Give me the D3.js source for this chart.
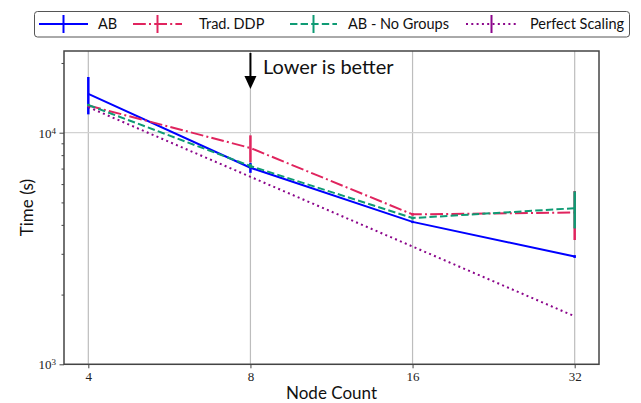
<!DOCTYPE html>
<html lang="en">
<head>
    <meta charset="UTF-8">
    <title>Time vs Node Count</title>
    <script src="https://d3js.org/d3.v7.min.js"></script>
    <style>
        body { margin: 0; background: #fff; }
        .grid line { stroke: #bdbdbd; stroke-width: 1.2px; }
        .axis path { display: none; }
        .axis line { stroke: #444; stroke-width: 1px; }
        .axis text { font-family: "Liberation Serif", serif; font-size: 13px; fill: #222; }
        .label { font-family: Lato, sans-serif; fill: #111; }
        .series { fill: none; stroke-width: 2px; }
    </style>
</head>
<body>
    <script>
        // Data
        var nodes = [4, 8, 16, 32];
        var xTicks = [4, 8, 16, 32];
        var yMajor = [1000, 10000];
        var yMinor = [2000, 3000, 4000, 5000, 6000, 7000, 8000, 9000, 20000];

        var abTime = [14700, 7060, 4120, 2920];
        var abErr = [2700, 350, 50, 40];
        var ddpTime = [13100, 8590, 4440, 4520];
        var ddpErr = [150, 1150, 60, 1080];
        var noGroupsTime = [13170, 7180, 4280, 4720];
        var noGroupsErr = [150, 150, 60, 860];
        var perfectTime = [12900, 6450, 3225, 1612];
        var perfectErr = [0, 0, 0, 0];

        var seriesNames = ["AB", "Trad. DDP", "AB - No Groups", "Perfect Scaling"];

        var series = [
            {name: seriesNames[0], y: abTime, err: abErr, color: "#0000ff", dash: null},
            {name: seriesNames[1], y: ddpTime, err: ddpErr, color: "#e0245e", dash: "12.8,3.2,2,3.2"},
            {name: seriesNames[2], y: noGroupsTime, err: noGroupsErr, color: "#0f9b74", dash: "7.4,3.2"},
            {name: seriesNames[3], y: perfectTime, err: perfectErr, color: "#8b068b", dash: "2,3.3"}
        ];

        var W = 641, H = 403;
        var pL = 64, pR = 599, pT = 51, pB = 364.3;

        var svg = d3.select("body").append("svg")
            .attr("width", W)
            .attr("height", H);

        var x = d3.scaleLog().base(2)
            .domain([Math.pow(2, 1.85), Math.pow(2, 5.15)])
            .range([pL, pR]);

        var y = d3.scaleLog()
            .domain([1000, 22530])
            .range([pB, pT]);

        // Grid
        var grid = svg.append("g").attr("class", "grid");
        grid.selectAll(".vx").data(xTicks).enter().append("line")
            .attr("x1", function(d) { return x(d); })
            .attr("x2", function(d) { return x(d); })
            .attr("y1", pT).attr("y2", pB);
        grid.selectAll(".hy").data(yMajor).enter().append("line")
            .attr("x1", pL).attr("x2", pR)
            .attr("y1", function(d) { return y(d); })
            .attr("y2", function(d) { return y(d); })
            .style("stroke", "#d2d2d2");

        // Axes
        svg.append("g")
            .attr("class", "axis")
            .attr("transform", "translate(0," + pB + ")")
            .call(d3.axisBottom(x).tickValues(xTicks).tickFormat(d3.format("d")).tickSize(4).tickPadding(3));

        svg.append("g")
            .attr("class", "axis")
            .attr("transform", "translate(" + pL + ",0)")
            .call(d3.axisLeft(y).tickValues(yMinor).tickFormat("").tickSize(2.5));

        var yAx = svg.append("g")
            .attr("class", "axis")
            .attr("transform", "translate(" + pL + ",0)")
            .call(d3.axisLeft(y).tickValues(yMajor).tickSize(4.5).tickPadding(3).tickFormat(""));

        yAx.selectAll(".tick").append("text")
            .attr("x", -8)
            .attr("dy", "0.35em")
            .attr("text-anchor", "end")
            .each(function(d) {
                var t = d3.select(this);
                t.append("tspan").text("10");
                t.append("tspan").attr("dy", "-0.45em").style("font-size", "9px")
                    .text(String(Math.round(Math.log10(d))));
            });

        // Lines with error bars
        var line = d3.line()
            .x(function(d, i) { return x(nodes[i]); })
            .y(function(d) { return y(d); });

        series.forEach(function(s) {
            var g = svg.append("g");
            g.append("path")
                .attr("class", "series")
                .attr("d", line(s.y))
                .attr("stroke", s.color)
                .attr("stroke-dasharray", s.dash);
            g.selectAll("line").data(s.y).enter().append("line")
                .attr("x1", function(d, i) { return x(nodes[i]); })
                .attr("x2", function(d, i) { return x(nodes[i]); })
                .attr("y1", function(d, i) { return y(d + s.err[i]); })
                .attr("y2", function(d, i) { return y(d - s.err[i]); })
                .attr("stroke", s.color)
                .attr("stroke-width", 2.5);
        });

        // Frame
        svg.append("rect")
            .attr("x", pL).attr("y", pT)
            .attr("width", pR - pL).attr("height", pB - pT)
            .attr("fill", "none")
            .attr("stroke", "#444")
            .attr("stroke-width", 1.5);

        // Annotation
        var ax = x(8);
        svg.append("line")
            .attr("x1", ax).attr("x2", ax)
            .attr("y1", 53).attr("y2", 78)
            .attr("stroke", "#000").attr("stroke-width", 2);
        svg.append("path")
            .attr("d", "M" + (ax - 6) + ",76 L" + (ax + 6) + ",76 L" + ax + ",89 Z")
            .attr("fill", "#000");
        svg.append("text")
            .attr("class", "label")
            .attr("x", 263).attr("y", 74)
            .style("font-size", "20px")
            .text("Lower is better");

        // Axis labels
        svg.append("text")
            .attr("class", "label")
            .attr("x", (pL + pR) / 2).attr("y", 399)
            .attr("text-anchor", "middle")
            .style("font-size", "17px")
            .text("Node Count");

        svg.append("text")
            .attr("class", "label")
            .attr("transform", "translate(33," + ((pT + pB) / 2) + ") rotate(-90)")
            .attr("text-anchor", "middle")
            .style("font-size", "17px")
            .text("Time (s)");

        // Legend
        var legend = svg.append("g");
        legend.append("rect")
            .attr("x", 34.5).attr("y", 11.5)
            .attr("width", 595).attr("height", 25.5)
            .attr("rx", 3)
            .attr("fill", "#fff")
            .attr("stroke", "#555")
            .attr("stroke-width", 1);

        var legX = [39, 133, 290, 466];
        var legW = [49, 49, 47, 51];
        var legTextX = [98, 199, 348, 530];
        series.forEach(function(s, i) {
            var g = legend.append("g").attr("transform", "translate(" + legX[i] + ",24)");
            g.append("line")
                .attr("x1", 0).attr("x2", legW[i])
                .attr("stroke", s.color).attr("stroke-width", 2)
                .attr("stroke-dasharray", s.dash);
            g.append("line")
                .attr("x1", legW[i] / 2).attr("x2", legW[i] / 2)
                .attr("y1", -9).attr("y2", 9)
                .attr("stroke", s.color).attr("stroke-width", 2);
            g.append("text")
                .attr("class", "label")
                .attr("x", legTextX[i] - legX[i]).attr("dy", "0.35em")
                .style("font-size", "14.5px")
                .text(s.name);
        });
    </script>
</body>
</html>
